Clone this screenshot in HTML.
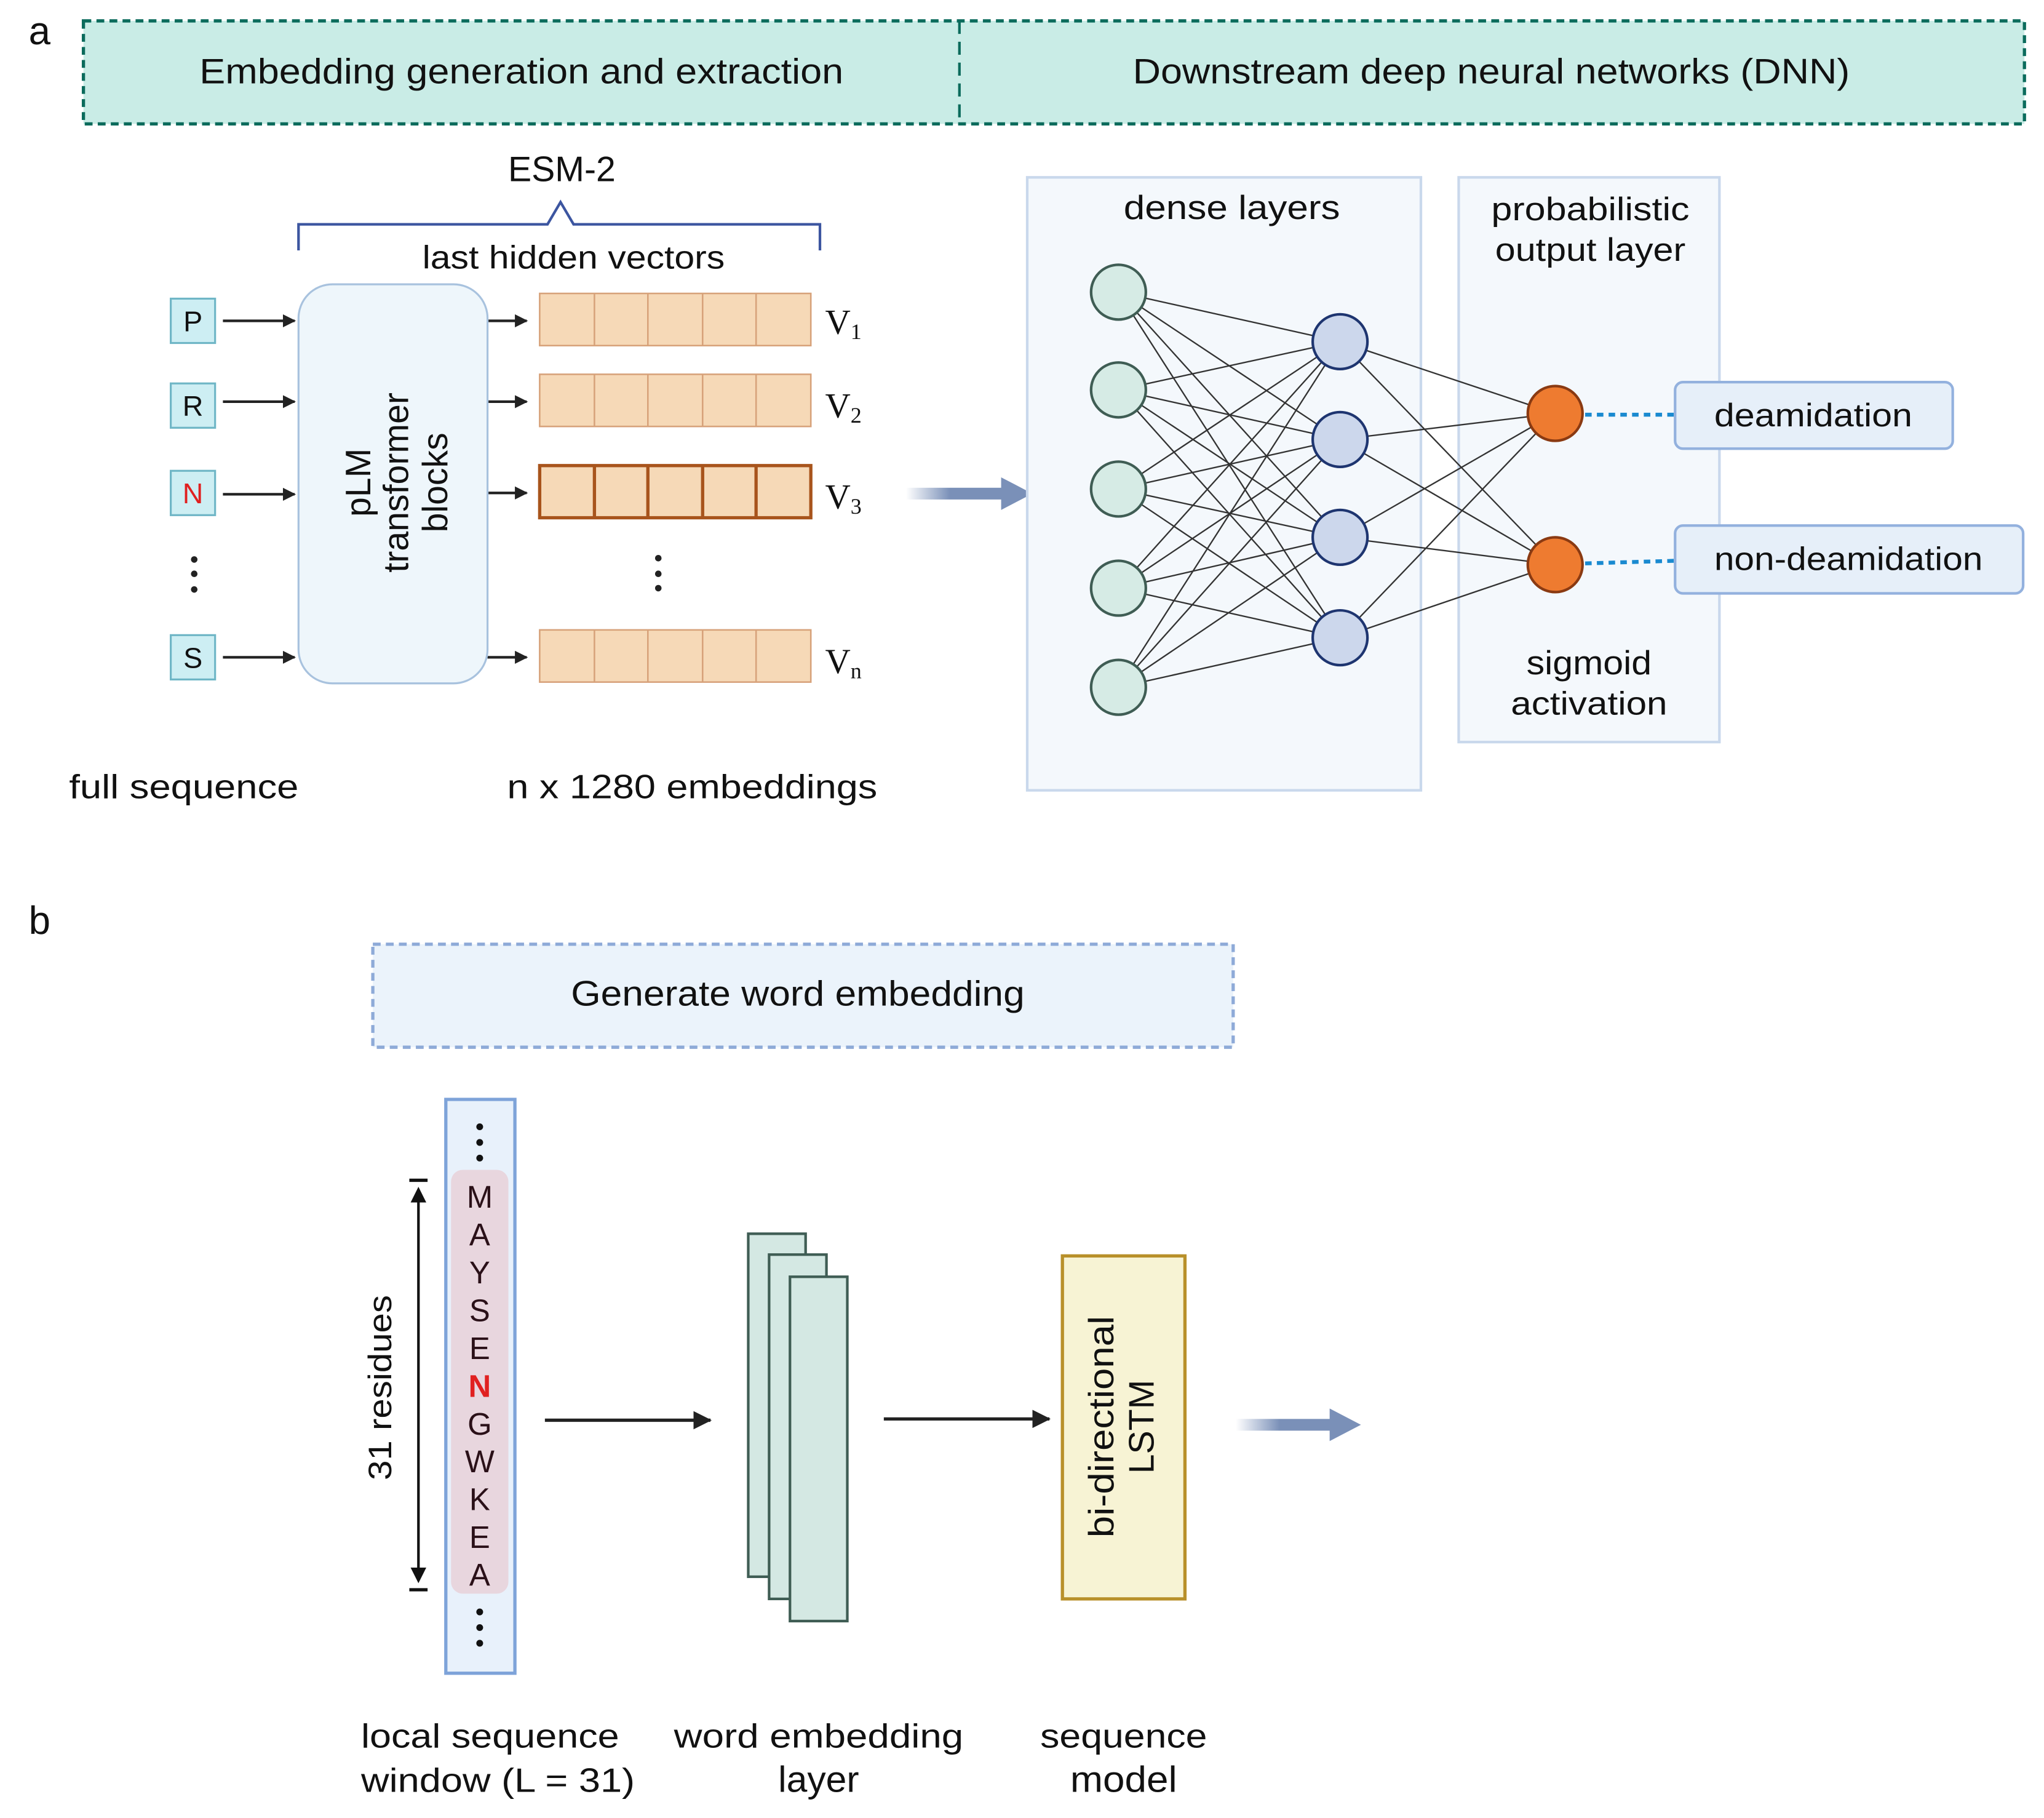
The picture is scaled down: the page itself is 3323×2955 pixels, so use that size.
<!DOCTYPE html>
<html><head><meta charset="utf-8"><style>
html,body{margin:0;padding:0;background:#fff;}
svg{display:block;}
text{font-family:"Liberation Sans","DejaVu Sans",sans-serif;fill:#111;}
</style></head><body>
<svg width="3323" height="2955" viewBox="0 0 1568 1394" preserveAspectRatio="none" xmlns="http://www.w3.org/2000/svg">
<defs>
<marker id="ah" markerWidth="10" markerHeight="10" refX="9" refY="5" orient="auto" markerUnits="userSpaceOnUse"><path d="M0,0 L10,5 L0,10 z" fill="#222"/></marker>
<marker id="ahb" markerWidth="14" markerHeight="14" refX="13" refY="7" orient="auto" markerUnits="userSpaceOnUse"><path d="M0,0 L14,7 L0,14 z" fill="#222"/></marker>
<linearGradient id="fade" x1="0" x2="1" y1="0" y2="0"><stop offset="0" stop-color="#7a90b8" stop-opacity="0"/><stop offset="0.45" stop-color="#7a90b8" stop-opacity="1"/></linearGradient>
</defs>

<text x="22" y="34" font-size="30">a</text>
<rect x="64" y="16" width="1489" height="79" fill="#c9ece6" stroke="#0b6b5c" stroke-width="2.5" stroke-dasharray="6,4"/>
<line x1="736" y1="16" x2="736" y2="95" stroke="#0b6b5c" stroke-width="2" stroke-dasharray="10,6"/>
<text x="400" y="64" font-size="27" text-anchor="middle" textLength="494" lengthAdjust="spacingAndGlyphs">Embedding generation and extraction</text>
<text x="1144" y="64" font-size="27" text-anchor="middle" textLength="550" lengthAdjust="spacingAndGlyphs">Downstream deep neural networks (DNN)</text>

<text x="431" y="139" font-size="27" text-anchor="middle">ESM-2</text>
<path d="M229,192 V172 H420 L430,155 L440,172 H629 V192" fill="none" stroke="#3c55a0" stroke-width="2"/>
<text x="440" y="206" font-size="25" text-anchor="middle" textLength="232" lengthAdjust="spacingAndGlyphs">last hidden vectors</text>

<rect x="131" y="229" width="34" height="34" fill="#cdeef3" stroke="#6fb6c6" stroke-width="1.5"/><text x="148" y="254" font-size="22" text-anchor="middle">P</text>
<rect x="131" y="294" width="34" height="34" fill="#cdeef3" stroke="#6fb6c6" stroke-width="1.5"/><text x="148" y="319" font-size="22" text-anchor="middle">R</text>
<rect x="131" y="361" width="34" height="34" fill="#cdeef3" stroke="#6fb6c6" stroke-width="1.5"/><text x="148" y="386" font-size="22" text-anchor="middle" style="fill:#e02020">N</text>
<rect x="131" y="487" width="34" height="34" fill="#cdeef3" stroke="#6fb6c6" stroke-width="1.5"/><text x="148" y="512" font-size="22" text-anchor="middle">S</text>
<g fill="#222"><circle cx="149" cy="429" r="2.5"/><circle cx="149" cy="440" r="2.5"/><circle cx="149" cy="452" r="2.5"/>
<circle cx="505" cy="428" r="2.5"/><circle cx="505" cy="440" r="2.5"/><circle cx="505" cy="451" r="2.5"/></g>
<g stroke="#222" stroke-width="2" marker-end="url(#ah)">
<line x1="171" y1="246" x2="226" y2="246"/><line x1="171" y1="308" x2="226" y2="308"/>
<line x1="171" y1="379" x2="226" y2="379"/><line x1="171" y1="504" x2="226" y2="504"/>
<line x1="374" y1="246" x2="404" y2="246"/><line x1="374" y1="308" x2="404" y2="308"/>
<line x1="374" y1="378" x2="404" y2="378"/><line x1="374" y1="504" x2="404" y2="504"/>
</g>
<rect x="229" y="218" width="145" height="306" rx="26" fill="#eef6fb" stroke="#a8c2de" stroke-width="1.5"/>
<text transform="translate(284,370) rotate(-90)" font-size="27" text-anchor="middle">pLM</text>
<text transform="translate(313,370) rotate(-90)" font-size="27" text-anchor="middle">transformer</text>
<text transform="translate(343,370) rotate(-90)" font-size="27" text-anchor="middle">blocks</text>

<g fill="#f6d9b7" stroke="#d7a27a" stroke-width="1.2">
<rect x="414" y="225" width="208" height="40"/><rect x="414" y="287" width="208" height="40"/><rect x="414" y="483" width="208" height="40"/>
</g>
<g stroke="#d7a27a" stroke-width="1.2">
<path d="M456,225v40M497,225v40M539,225v40M580,225v40"/>
<path d="M456,287v40M497,287v40M539,287v40M580,287v40"/>
<path d="M456,483v40M497,483v40M539,483v40M580,483v40"/>
</g>
<rect x="414" y="357" width="208" height="40" fill="#f6d9b7" stroke="#a8541c" stroke-width="2.5"/>
<path d="M456,357v40M497,357v40M539,357v40M580,357v40" stroke="#a8541c" stroke-width="2.5"/>
<text x="633" y="256" font-size="27" style="font-family:'Liberation Serif',serif">V<tspan font-size="17" dy="4">1</tspan></text>
<text x="633" y="320" font-size="27" style="font-family:'Liberation Serif',serif">V<tspan font-size="17" dy="4">2</tspan></text>
<text x="633" y="390" font-size="27" style="font-family:'Liberation Serif',serif">V<tspan font-size="17" dy="4">3</tspan></text>
<text x="633" y="516" font-size="27" style="font-family:'Liberation Serif',serif">V<tspan font-size="17" dy="4">n</tspan></text>
<text x="141" y="612" font-size="26" text-anchor="middle" textLength="176" lengthAdjust="spacingAndGlyphs">full sequence</text>
<text x="531" y="612" font-size="26" text-anchor="middle" textLength="284" lengthAdjust="spacingAndGlyphs">n x 1280 embeddings</text>

<rect x="695" y="374" width="75" height="9" fill="url(#fade)"/>
<path d="M768,366 L792,378.5 L768,391 z" fill="#7a90b8"/>

<rect x="788" y="136" width="302" height="470" fill="#f4f8fc" stroke="#c9d8ec" stroke-width="2"/>
<rect x="1119" y="136" width="200" height="433" fill="#f4f8fc" stroke="#c9d8ec" stroke-width="2"/>
<text x="945" y="168" font-size="26" text-anchor="middle" textLength="166" lengthAdjust="spacingAndGlyphs">dense layers</text>
<text x="1220" y="169" font-size="25" text-anchor="middle" textLength="152" lengthAdjust="spacingAndGlyphs">probabilistic</text>
<text x="1220" y="200" font-size="25" text-anchor="middle" textLength="146" lengthAdjust="spacingAndGlyphs">output layer</text>
<text x="1219" y="517" font-size="26" text-anchor="middle" textLength="96" lengthAdjust="spacingAndGlyphs">sigmoid</text>
<text x="1219" y="548" font-size="25" text-anchor="middle" textLength="120" lengthAdjust="spacingAndGlyphs">activation</text>

<g stroke="#333" stroke-width="1.1">
<path d="M858,224L1028,262M858,224L1028,337M858,224L1028,412M858,224L1028,489
M858,299L1028,262M858,299L1028,337M858,299L1028,412M858,299L1028,489
M858,375L1028,262M858,375L1028,337M858,375L1028,412M858,375L1028,489
M858,451L1028,262M858,451L1028,337M858,451L1028,412M858,451L1028,489
M858,527L1028,262M858,527L1028,337M858,527L1028,412M858,527L1028,489
M1028,262L1193,317M1028,262L1193,433M1028,337L1193,317M1028,337L1193,433
M1028,412L1193,317M1028,412L1193,433M1028,489L1193,317M1028,489L1193,433"/>
</g>
<g fill="#d6ebe5" stroke="#3f5d54" stroke-width="2">
<circle cx="858" cy="224" r="21"/><circle cx="858" cy="299" r="21"/><circle cx="858" cy="375" r="21"/><circle cx="858" cy="451" r="21"/><circle cx="858" cy="527" r="21"/>
</g>
<g fill="#ccd7ec" stroke="#1e3570" stroke-width="2">
<circle cx="1028" cy="262" r="21"/><circle cx="1028" cy="337" r="21"/><circle cx="1028" cy="412" r="21"/><circle cx="1028" cy="489" r="21"/>
</g>
<g fill="#ee7b30" stroke="#8a3a12" stroke-width="2">
<circle cx="1193" cy="317" r="21"/><circle cx="1193" cy="433" r="21"/>
</g>
<g stroke="#1a8ad0" stroke-width="3" stroke-dasharray="5,4">
<line x1="1216" y1="318" x2="1285" y2="318"/><line x1="1216" y1="432" x2="1285" y2="430"/>
</g>
<rect x="1285" y="293" width="213" height="51" rx="6" fill="#e6eff9" stroke="#93b1de" stroke-width="2"/>
<text x="1391" y="327" font-size="25" text-anchor="middle" textLength="152" lengthAdjust="spacingAndGlyphs">deamidation</text>
<rect x="1285" y="403" width="267" height="52" rx="6" fill="#e6eff9" stroke="#93b1de" stroke-width="2"/>
<text x="1418" y="437" font-size="25" text-anchor="middle" textLength="206" lengthAdjust="spacingAndGlyphs">non-deamidation</text>

<text x="22" y="716" font-size="30">b</text>
<rect x="286" y="724" width="660" height="79" fill="#ebf3fb" stroke="#8eaad8" stroke-width="2.5" stroke-dasharray="6,4"/>
<text x="612" y="771" font-size="27" text-anchor="middle" textLength="348" lengthAdjust="spacingAndGlyphs">Generate word embedding</text>

<rect x="342" y="843" width="53" height="440" fill="#e8f1fb" stroke="#7ea3d9" stroke-width="2.5"/>
<rect x="346" y="897" width="44" height="325" rx="9" fill="#e8d6de"/>
<g fill="#111"><circle cx="368" cy="864" r="2.6"/><circle cx="368" cy="876" r="2.6"/><circle cx="368" cy="888" r="2.6"/>
<circle cx="368" cy="1236" r="2.6"/><circle cx="368" cy="1248" r="2.6"/><circle cx="368" cy="1260" r="2.6"/></g>
<g font-size="24" text-anchor="middle">
<text x="368" y="926" style="fill:#2a1018">M</text><text x="368" y="955" style="fill:#2a1018">A</text><text x="368" y="984" style="fill:#2a1018">Y</text>
<text x="368" y="1013" style="fill:#2a1018">S</text><text x="368" y="1042" style="fill:#2a1018">E</text><text x="368" y="1071" font-weight="bold" style="fill:#e02020">N</text>
<text x="368" y="1100" style="fill:#2a1018">G</text><text x="368" y="1129" style="fill:#2a1018">W</text><text x="368" y="1158" style="fill:#2a1018">K</text>
<text x="368" y="1187" style="fill:#2a1018">E</text><text x="368" y="1216" style="fill:#2a1018">A</text>
</g>
<line x1="314" y1="905" x2="328" y2="905" stroke="#111" stroke-width="2.5"/>
<line x1="314" y1="1219" x2="328" y2="1219" stroke="#111" stroke-width="2.5"/>
<line x1="321" y1="912" x2="321" y2="1212" stroke="#111" stroke-width="2"/>
<path d="M315,922 L321,910 L327,922 z M315,1202 L321,1214 L327,1202 z" fill="#111"/>
<text transform="translate(300,1064) rotate(-90)" font-size="25" text-anchor="middle" textLength="142" lengthAdjust="spacingAndGlyphs">31 residues</text>

<line x1="418" y1="1089" x2="545" y2="1089" stroke="#222" stroke-width="2.5" marker-end="url(#ahb)"/>
<line x1="678" y1="1088" x2="805" y2="1088" stroke="#222" stroke-width="2.5" marker-end="url(#ahb)"/>

<g fill="#d4e8e3" stroke="#3f5d54" stroke-width="2">
<rect x="574" y="946" width="44" height="263"/><rect x="590" y="962" width="44" height="264"/><rect x="606" y="979" width="44" height="264"/>
</g>
<rect x="815" y="963" width="94" height="263" fill="#f7f3d4" stroke="#b8902a" stroke-width="2.5"/>
<text transform="translate(854,1094) rotate(-90)" font-size="27" text-anchor="middle" textLength="170" lengthAdjust="spacingAndGlyphs">bi-directional</text>
<text transform="translate(885,1094) rotate(-90)" font-size="27" text-anchor="middle">LSTM</text>

<rect x="948" y="1088" width="75" height="9" fill="url(#fade)"/>
<path d="M1020,1080 L1044,1092.5 L1020,1105 z" fill="#7a90b8"/>

<text x="376" y="1340" font-size="26" text-anchor="middle" textLength="198" lengthAdjust="spacingAndGlyphs">local sequence</text>
<text x="382" y="1374" font-size="26" text-anchor="middle" textLength="210" lengthAdjust="spacingAndGlyphs">window (L = 31)</text>
<text x="628" y="1340" font-size="26" text-anchor="middle" textLength="222" lengthAdjust="spacingAndGlyphs">word embedding</text>
<text x="628" y="1374" font-size="28" text-anchor="middle" textLength="62" lengthAdjust="spacingAndGlyphs">layer</text>
<text x="862" y="1340" font-size="26" text-anchor="middle" textLength="128" lengthAdjust="spacingAndGlyphs">sequence</text>
<text x="862" y="1374" font-size="28" text-anchor="middle" textLength="82" lengthAdjust="spacingAndGlyphs">model</text>
</svg>
</body></html>
